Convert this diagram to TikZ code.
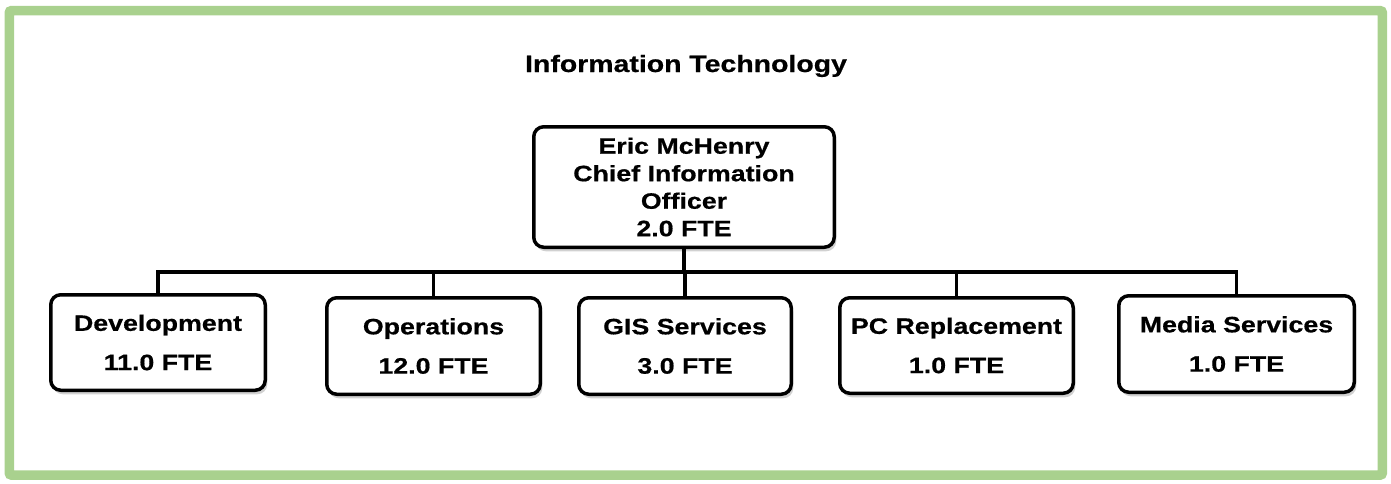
\documentclass[tikz,border=0pt]{standalone}
\usepackage{fontspec}
\setmainfont[FakeStretch=1.2,BoldFeatures={FakeBold=0.6}]{Liberation Sans}
\usetikzlibrary{shadows}
\definecolor{framegreen}{RGB}{169,209,142}
\begin{document}
\begin{tikzpicture}[x=1pt,y=-1pt,
  orgbox/.style={draw=black, line width=3.5pt, rounded corners=10pt, fill=white,
    align=center, inner sep=0pt,
    font=\bfseries\fontsize{22.3}{27}\selectfont,
    drop shadow={shadow xshift=2pt, shadow yshift=-4pt, opacity=0.3, fill=black!60}},
  link/.style={draw=black, line width=3.5pt}]
\useasboundingbox (0,0) rectangle (1391,483);
\draw[framegreen, line width=9.5pt, rounded corners=2pt] (9.3,10.7) rectangle (1382.3,475);
\node[anchor=base, font=\bfseries\fontsize{23.7}{28}\selectfont] (title) at (686,72) {Information Technology};
\node[orgbox, minimum width=300.5pt, minimum height=120.5pt,
  font=\bfseries\fontsize{22.3}{27.5}\selectfont] (cio) at (684,187)
  {Eric McHenry\\Chief Information\\Officer\\2.0 FTE};
\node[orgbox, minimum width=214.5pt, minimum height=95.5pt] (dev) at (158,342.5) {Development\\[12.3pt]11.0 FTE};
\node[orgbox, minimum width=213.5pt, minimum height=96.5pt] (ops) at (433.5,346) {Operations\\[12.3pt]12.0 FTE};
\node[orgbox, minimum width=212.5pt, minimum height=96.5pt] (gis) at (685,346) {GIS Services\\[12.3pt]3.0 FTE};
\node[orgbox, minimum width=233.5pt, minimum height=95.5pt] (pc) at (956.5,345.5) {PC Replacement\\[12.3pt]1.0 FTE};
\node[orgbox, minimum width=235.5pt, minimum height=96.5pt] (media) at (1236.5,344) {Media Services\\[12.3pt]1.0 FTE};
\coordinate (bus) at (685,272);
\draw[link] (cio.south) -- (cio.south |- bus);
\draw[link] (dev.north) |- (bus) -| (media.north);
\draw[link] (ops.north) -- (ops.north |- bus);
\draw[link] (gis.north) -- (gis.north |- bus);
\draw[link] (pc.north) -- (pc.north |- bus);
\end{tikzpicture}
\end{document}
